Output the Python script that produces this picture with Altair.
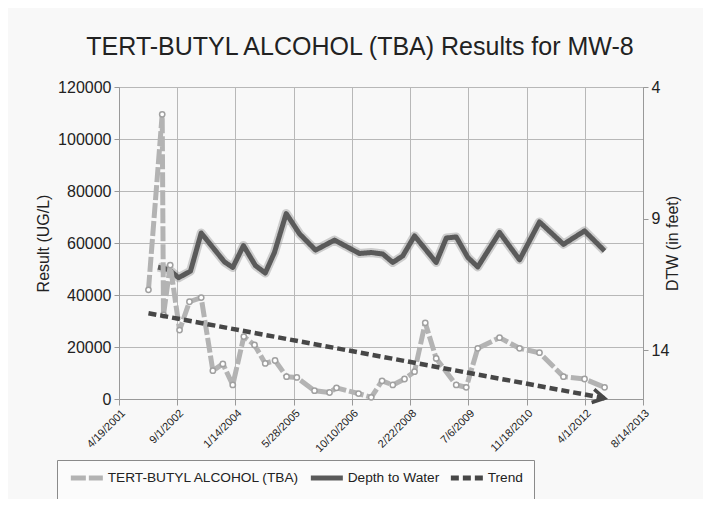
import altair as alt
import pandas as pd

ORIGIN = "2001-04-19"

TBA_DATES = [
    "2001-12-28", "2002-04-25", "2002-05-06", "2002-07-03", "2002-09-21",
    "2002-12-15", "2003-03-26", "2003-07-04", "2003-09-28", "2003-12-22",
    "2004-03-26", "2004-06-26", "2004-09-26", "2004-12-19", "2005-03-28",
    "2005-06-24", "2005-11-23", "2006-04-01", "2006-05-31", "2006-12-06",
    "2007-03-25", "2007-06-26", "2007-09-26", "2008-01-05", "2008-03-31",
    "2008-07-01", "2008-10-03", "2009-03-24", "2009-06-18", "2009-09-25",
    "2010-03-31", "2010-09-19", "2011-03-09", "2011-10-01", "2012-03-30",
    "2012-09-18",
]
TBA_VALUES = [
    42000, 109500, 32300, 51500, 26500,
    37400, 39000, 10900, 13500, 5400,
    24000, 20800, 13700, 14800, 8600,
    8300, 3200, 2500, 4300, 2100,
    650, 7000, 5400, 7700, 10500,
    29300, 15600, 5400, 4500, 19500,
    23600, 19500, 17800, 8600, 7700,
    4500,
]

DTW_DATES = [
    "2002-03-20", "2002-06-27", "2002-09-12", "2002-12-24", "2003-03-26",
    "2003-10-12", "2003-12-22", "2004-03-23", "2004-07-04", "2004-09-26",
    "2004-12-14", "2005-03-25", "2005-07-17", "2005-12-02", "2006-05-14",
    "2006-12-14", "2007-03-25", "2007-07-03", "2007-09-26", "2007-12-21",
    "2008-03-31", "2008-10-03", "2008-12-29", "2009-03-24", "2009-07-02",
    "2009-09-25", "2010-03-31", "2010-09-19", "2011-03-09", "2011-10-01",
    "2012-03-30", "2012-09-18",
]
DTW_VALUES = [
    10.85, 10.95, 11.25, 11.0, 9.55,
    10.65, 10.86, 10.03, 10.79, 11.07,
    10.29, 8.81, 9.58, 10.2, 9.82,
    10.33, 10.29, 10.35, 10.67, 10.42,
    9.66, 10.67, 9.74, 9.70, 10.48,
    10.84, 9.53, 10.57, 9.13, 9.98,
    9.47, 10.23,
]

TREND_DATES = ["2001-12-28", "2012-09-18"]
TREND_VALUES = [33000, 300]

XTICK_DAYS = [0, 500, 1000, 1500, 2000, 2500, 3000, 3500, 4000, 4500]
XTICK_LABELS = ["4/19/2001", "9/1/2002", "1/14/2004", "5/28/2005", "10/10/2006",
                "2/22/2008", "7/6/2009", "11/18/2010", "4/1/2012", "8/14/2013"]
LEFT_TICKS = [0, 20000, 40000, 60000, 80000, 100000, 120000]
RIGHT_TICKS = [4, 9, 14]

SERIES = ["TERT-BUTYL ALCOHOL (TBA)", "Depth to Water", "Trend"]
COLORS = ["#b3b3b3", "#5a5a5a", "#474747"]
DASHES = [[15, 3], [1, 0], [8, 4]]


def to_days(dates):
    o = pd.Timestamp(ORIGIN)
    return [(pd.Timestamp(d) - o).days for d in dates]


tba = pd.DataFrame({"day": to_days(TBA_DATES), "value": TBA_VALUES, "series": SERIES[0]})
dtw = pd.DataFrame({"day": to_days(DTW_DATES), "dtw": DTW_VALUES, "series": SERIES[1]})
trend = pd.DataFrame({"day": to_days(TREND_DATES), "value": TREND_VALUES, "series": SERIES[2]})
trend_end = trend.tail(1)

label_expr = "[" + ",".join("'%s'" % s for s in XTICK_LABELS) + "][round(datum.value / 500)]"

x_enc = alt.X(
    "day:Q",
    scale=alt.Scale(domain=[0, 4500], nice=False, zero=False),
    axis=alt.Axis(values=XTICK_DAYS, labelExpr=label_expr, labelAngle=-45,
                  labelFontSize=11, title=None, grid=True, gridColor="#b8b8b8",
                  tickSize=6, tickColor="#999", domainColor="#999", labelPadding=2),
)

legend = alt.Legend(
    title=None, orient="none", legendX=-62, legendY=373, direction="horizontal",
    symbolType="M-1,0L7,0", symbolSize=64, symbolStrokeWidth=5,
    labelFontSize=13.7, labelFont="Liberation Sans", labelColor="#222", labelLimit=0,
    strokeColor="#8a8a8a", fillColor="#fbfbfb", padding=11,
    columnPadding=0, labelOffset=26,
)
color_enc = alt.Color("series:N", scale=alt.Scale(domain=SERIES, range=COLORS), legend=legend)
dash_enc = alt.StrokeDash("series:N", scale=alt.Scale(domain=SERIES, range=DASHES), legend=legend)

y_left = alt.Y(
    "value:Q",
    scale=alt.Scale(domain=[0, 120000], nice=False),
    axis=alt.Axis(orient="left", values=LEFT_TICKS, format="d", title="Result (UG/L)",
                  grid=True, gridColor="#b8b8b8", tickSize=5, tickColor="#999",
                  domainColor="#999", labelFontSize=16, titleFontSize=16,
                  labelPadding=3, titlePadding=6),
)

y_right = alt.Y(
    "dtw:Q",
    scale=alt.Scale(domain=[4, 15.86], reverse=True, nice=False, zero=False),
    axis=alt.Axis(orient="right", values=RIGHT_TICKS, title="DTW (in feet)",
                  titleAngle=270, grid=False, tickSize=5, tickColor="#999",
                  domainColor="#999", labelFontSize=16, titleFontSize=16,
                  labelPadding=3, titlePadding=12),
)

dtw_shadow = alt.Chart(dtw).mark_line(strokeWidth=9, color="#9a9a9a", opacity=0.45,
                                      strokeJoin="round").encode(x=x_enc, y=y_right)
dtw_line = alt.Chart(dtw).mark_line(strokeWidth=5, strokeJoin="round").encode(
    x=x_enc, y=y_right, color=color_enc, strokeDash=dash_enc)
right_group = alt.layer(dtw_shadow, dtw_line)

tba_line = alt.Chart(tba).mark_line(strokeWidth=5, strokeJoin="round").encode(
    x=x_enc, y=y_left, color=color_enc, strokeDash=dash_enc)
tba_pts = alt.Chart(tba).mark_point(filled=True, fill="white", stroke="#a0a0a0",
                                    strokeWidth=1.5, size=28, opacity=1).encode(
    x=x_enc, y=y_left)
trend_line = alt.Chart(trend).mark_line(strokeWidth=4.5).encode(
    x=x_enc, y=y_left, color=color_enc, strokeDash=dash_enc)
trend_arrow = alt.Chart(trend_end).mark_point(
    shape="M-1.6,-0.9L0,0L-1.6,0.9", filled=False, stroke="#474747",
    strokeWidth=3.5, size=220, angle=11, opacity=1).encode(x=x_enc, y=y_left)
left_group = alt.layer(tba_line, tba_pts, trend_line, trend_arrow)

chart = alt.layer(right_group, left_group).resolve_scale(y="independent").properties(
    width=524, height=312,
    title=alt.TitleParams("TERT-BUTYL ALCOHOL (TBA) Results for MW-8", fontSize=25,
                          font="Liberation Sans", fontWeight="normal", anchor="middle",
                          dx=-21, offset=19, color="#222"),
    autosize=alt.AutoSizeParams(type="none"),
    padding={"left": 111, "top": 79, "right": 60, "bottom": 100},
).configure(background="#f8f8f8").configure_axis(
    labelFont="Liberation Sans", titleFont="Liberation Sans",
    labelColor="#222", titleColor="#222", titleFontWeight="normal",
).configure_view(stroke="#b8b8b8")

chart.save("out.html", embed_options={"renderer": "svg", "actions": False})
